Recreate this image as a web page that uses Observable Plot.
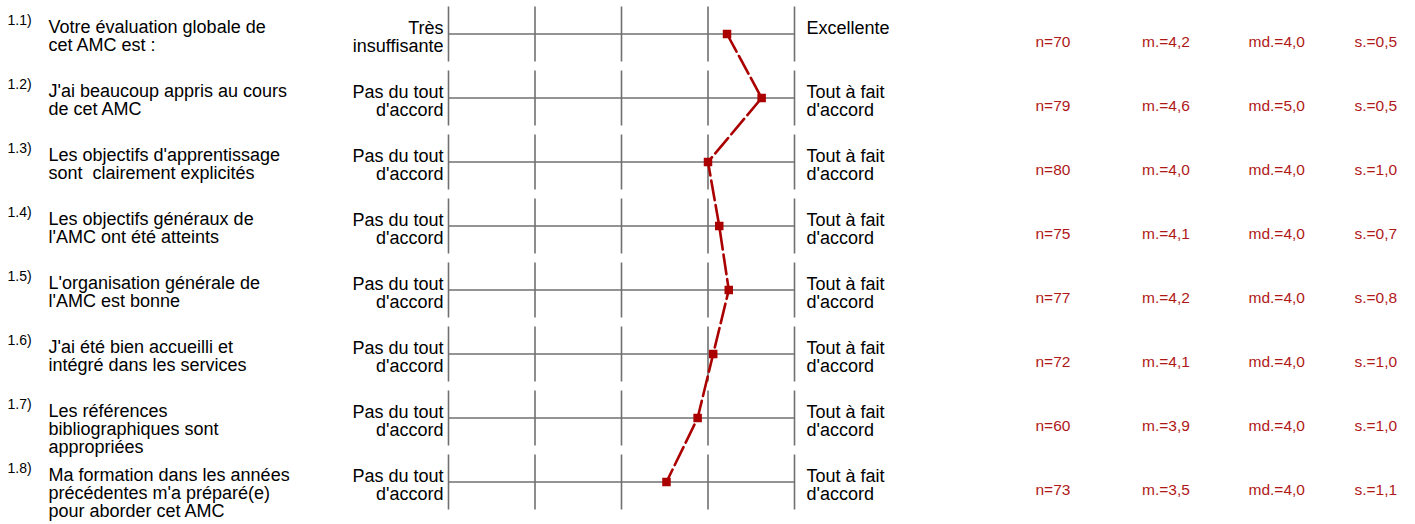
<!DOCTYPE html>
<html>
<head>
<meta charset="utf-8">
<script src="https://cdn.jsdelivr.net/npm/d3@7"></script>
<script src="https://cdn.jsdelivr.net/npm/@observablehq/plot@0.6"></script>
<style>
  html, body { margin: 0; padding: 0; background: #fff; }
  #chart svg { display: block; }
</style>
</head>
<body>
<div id="chart"></div>
<script>
const ids = ["1.1)", "1.2)", "1.3)", "1.4)", "1.5)", "1.6)", "1.7)", "1.8)"];
const questions = [
  "Votre évaluation globale de\ncet AMC est :",
  "J'ai beaucoup appris au cours\nde cet AMC",
  "Les objectifs d'apprentissage\nsont  clairement explicités",
  "Les objectifs généraux de\nl'AMC ont été atteints",
  "L'organisation générale de\nl'AMC est bonne",
  "J'ai été bien accueilli et\nintégré dans les services",
  "Les références\nbibliographiques sont\nappropriées",
  "Ma formation dans les années\nprécédentes m'a préparé(e)\npour aborder cet AMC"
];
const leftLabels = [
  "Très\ninsuffisante",
  "Pas du tout\nd'accord", "Pas du tout\nd'accord", "Pas du tout\nd'accord",
  "Pas du tout\nd'accord", "Pas du tout\nd'accord", "Pas du tout\nd'accord",
  "Pas du tout\nd'accord"
];
const rightLabels = [
  "Excellente",
  "Tout à fait\nd'accord", "Tout à fait\nd'accord", "Tout à fait\nd'accord",
  "Tout à fait\nd'accord", "Tout à fait\nd'accord", "Tout à fait\nd'accord",
  "Tout à fait\nd'accord"
];
const scalePoints = [1, 2, 3, 4, 5];
const means = [4.22, 4.62, 4.0, 4.13, 4.24, 4.06, 3.88, 3.52];
const nValues = [70, 79, 80, 75, 77, 72, 60, 73];
const medians = [4.0, 5.0, 4.0, 4.0, 4.0, 4.0, 4.0, 4.0];
const sds = [0.5, 0.5, 1.0, 0.7, 0.8, 1.0, 1.0, 1.1];

const fr = v => v.toFixed(1).replace(".", ",");
const rows = ids.map((id, i) => ({
  i, id,
  question: questions[i],
  left: leftLabels[i],
  right: rightLabels[i],
  mean: means[i],
  nTxt: "n=" + nValues[i],
  mTxt: "m.=" + fr(means[i]),
  mdTxt: "md.=" + fr(medians[i]),
  sTxt: "s.=" + fr(sds[i])
}));
const tickData = rows.flatMap(r => scalePoints.map(v => ({i: r.i, v})));

const red = "#aa0000";
const statRed = "#b01818";
const grey = "#707070";
const font = "'Liberation Sans', Arial, Helvetica, sans-serif";

const chart = Plot.plot({
  width: 1415,
  height: 524,
  margin: 0,
  x: {domain: [scalePoints[0], scalePoints[scalePoints.length - 1]], range: [448, 794], axis: null},
  y: {domain: [0, ids.length - 1], range: [33.5, 481.5], axis: null},
  style: {fontFamily: font, background: "#fff"},
  marks: [
    Plot.ruleY(rows, {y: "i", x1: scalePoints[0], x2: scalePoints[scalePoints.length - 1], stroke: grey, strokeWidth: 1.6}),
    Plot.link(tickData, {x1: "v", x2: "v", y1: d => d.i - 0.43, y2: d => d.i + 0.43, stroke: grey, strokeWidth: 1.6}),
    Plot.line(rows, {x: "mean", y: "i", stroke: red, strokeWidth: 2.6, strokeDasharray: "20,5"}),
    Plot.dot(rows, {x: "mean", y: "i", symbol: "square", r: 4.8, fill: red, stroke: "none"}),
    Plot.text(rows, {text: "id", y: "i", frameAnchor: "left", dx: 7, dy: -9, lineAnchor: "bottom", textAnchor: "start", fontSize: 14, fill: "#000"}),
    Plot.text(rows, {text: "question", y: "i", frameAnchor: "left", dx: 48, dy: -14, lineAnchor: "top", lineHeight: 1, textAnchor: "start", fontSize: 18, fill: "#000"}),
    Plot.text(rows, {text: "left", x: scalePoints[0], y: "i", dx: -5, dy: -13, lineAnchor: "top", lineHeight: 1, textAnchor: "end", fontSize: 18, fill: "#000"}),
    Plot.text(rows, {text: "right", x: scalePoints[scalePoints.length - 1], y: "i", dx: 12, dy: -13, lineAnchor: "top", lineHeight: 1, textAnchor: "start", fontSize: 18, fill: "#000"}),
    Plot.text(rows, {text: "nTxt", y: "i", frameAnchor: "left", dx: 1035, dy: 13, lineAnchor: "bottom", textAnchor: "start", fontSize: 15.5, fill: statRed}),
    Plot.text(rows, {text: "mTxt", y: "i", frameAnchor: "left", dx: 1141.5, dy: 13, lineAnchor: "bottom", textAnchor: "start", fontSize: 15.5, fill: statRed}),
    Plot.text(rows, {text: "mdTxt", y: "i", frameAnchor: "left", dx: 1248, dy: 13, lineAnchor: "bottom", textAnchor: "start", fontSize: 15.5, fill: statRed}),
    Plot.text(rows, {text: "sTxt", y: "i", frameAnchor: "left", dx: 1354, dy: 13, lineAnchor: "bottom", textAnchor: "start", fontSize: 15.5, fill: statRed})
  ]
});
document.getElementById("chart").appendChild(chart);
</script>
</body>
</html>
